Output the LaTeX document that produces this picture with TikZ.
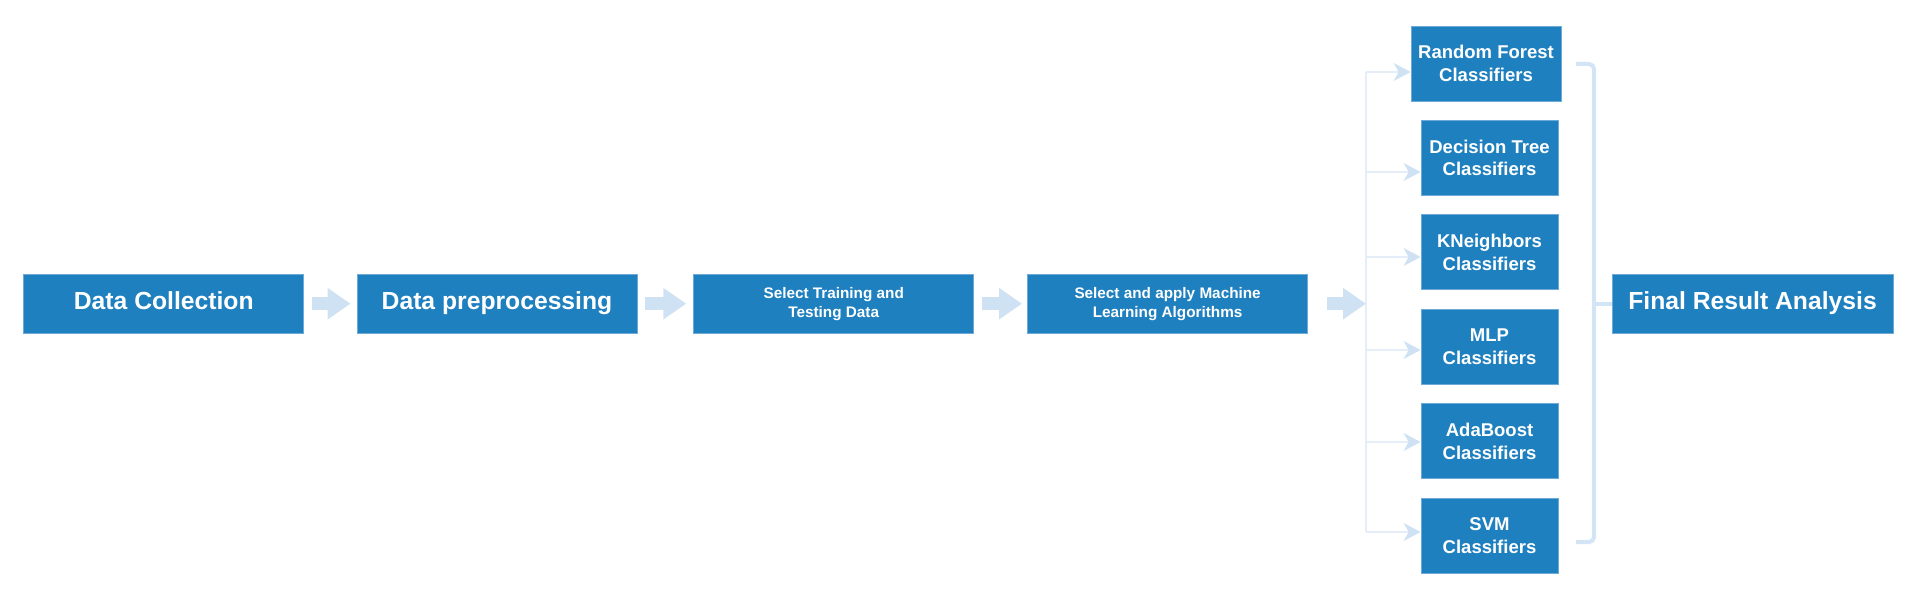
\documentclass[tikz,border=0pt]{standalone}
\usepackage{fontspec}
\setmainfont{Liberation Sans}
\usetikzlibrary{arrows.meta}
\definecolor{boxblue}{RGB}{31,128,191}
\definecolor{boxedge}{RGB}{110,170,215}
\definecolor{arrowblue}{RGB}{207,226,243}
\definecolor{linelight}{RGB}{228,237,248}
\definecolor{bracecol}{RGB}{210,228,245}
\begin{document}
\begin{tikzpicture}[x=0.5pt,y=-0.5pt,
  box/.style={rectangle, fill=boxblue, draw=boxedge, line width=0.4pt, text=white, inner sep=0pt},
  bigbox/.style={box, minimum width=140pt, minimum height=29.75pt,
    font=\bfseries\fontsize{12.35}{14}\selectfont, text height=5.6pt, text depth=0pt},
  smallbox/.style={box, minimum width=140pt, minimum height=29.75pt, align=center,
    font=\bfseries\fontsize{7.65}{9.5}\selectfont},
  clsbox/.style={box, minimum width=68.5pt, minimum height=37.5pt, align=center,
    font=\bfseries\fontsize{9.25}{11.3}\selectfont},
  bigarrow/.style={draw=arrowblue, line width=6.5pt, -{Triangle[width=15pt,length=11.5pt]}},
  thinarrow/.style={draw=linelight, line width=0.6pt, -{Stealth[length=8.5pt,width=9pt,inset=2.5pt,color=arrowblue,fill=arrowblue]}},
  vline/.style={draw=linelight, line width=1.2pt},
  brace/.style={draw=bracecol, line width=2pt, rounded corners=2.5pt}
]
\useasboundingbox (0,0) rectangle (1920,608);

% main flow
\node[bigbox] (dc) at (163.8,303.7) {Data Collection};
\node[bigbox] (dp) at (497,303.7) {Data preprocessing};
\node[smallbox] (st) at (833.7,303.7) {Select Training and\\Testing Data};
\node[smallbox] (sa) at (1167.6,303.7) {Select and apply Machine\\Learning Algorithms};
\node[bigbox, minimum width=140.5pt] (fr) at (1752.5,303.7) {Final Result Analysis};

% classifiers
\node[clsbox, minimum width=75pt] (rf) at (1486,63.5) {Random Forest\\Classifiers};
\node[clsbox] (dt) at (1489.5,158) {Decision Tree\\Classifiers};
\node[clsbox] (kn) at (1489.5,252.4) {KNeighbors\\Classifiers};
\node[clsbox] (mlp) at (1489.5,346.8) {MLP\\Classifiers};
\node[clsbox] (ada) at (1489.5,441.2) {AdaBoost\\Classifiers};
\node[clsbox] (svm) at (1489.5,535.6) {SVM\\Classifiers};

% block arrows
\draw[bigarrow] ([xshift=3.8pt]dc.east) -- ([xshift=-3pt]dp.west);
\draw[bigarrow] ([xshift=4pt]dp.east) -- ([xshift=-3.5pt]st.west);
\draw[bigarrow] ([xshift=3.7pt]st.east) -- ([xshift=-2.6pt]sa.west);

% distribution line
\coordinate (v1) at (1366,72);
\coordinate (v2) at (1366,172);
\coordinate (v3) at (1366,257);
\coordinate (v4) at (1366,350);
\coordinate (v5) at (1366,442);
\coordinate (v6) at (1366,532);
\draw[vline] (v1) -- (v6);
\draw[bigarrow] ([xshift=9.6pt]sa.east) -- (sa.east -| v1);
\draw[thinarrow] (v1) -- (v1 -| rf.west);
\draw[thinarrow] (v2) -- (v2 -| dt.west);
\draw[thinarrow] (v3) -- (v3 -| kn.west);
\draw[thinarrow] (v4) -- (v4 -| mlp.west);
\draw[thinarrow] (v5) -- (v5 -| ada.west);
\draw[thinarrow] (v6) -- (v6 -| svm.west);

% bracket
\coordinate (bt) at (1576,64);
\coordinate (b1) at (1594,64);
\coordinate (b2) at (1594,542);
\coordinate (bb) at (1576,542);
\coordinate (bm) at (1594,303.7);
\draw[brace] (bt) -- (b1) -- (b2) -- (bb);
\draw[brace] (bm) -- (fr.west);
\end{tikzpicture}
\end{document}
